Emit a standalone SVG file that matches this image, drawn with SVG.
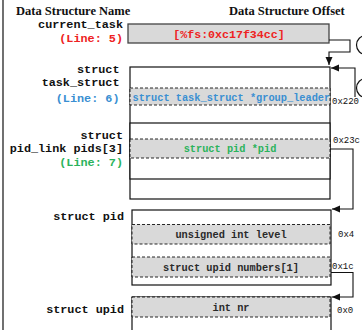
<svg xmlns="http://www.w3.org/2000/svg" width="362" height="330" viewBox="0 0 362 330">
  <style>
    .hdr { font-family: "Liberation Serif", "Times New Roman", serif; font-weight: bold; font-size: 12.5px; fill: #111; }
    .mono { font-family: "Liberation Mono", "Courier New", monospace; font-weight: bold; }
    .lbl { font-size: 11.8px; text-anchor: end; fill: #111; }
    .fld { font-size: 10.3px; fill: #111; }
    .plain { fill: #2a2a2a; }
    .mid { text-anchor: middle; }
    .off { font-family: "Liberation Mono", "Courier New", monospace; font-size: 9px; fill: #111; }
    .red { fill: #ee2222; }
    .blue { fill: #3a8fd2; }
    .green { fill: #2bb35c; }
    .box { fill: #fff; stroke: #111; stroke-width: 1.2; }
    .cur { fill: #d9d9d9; stroke: #444; stroke-width: 1.3; }
    .field { fill: #d9d9d9; stroke: #111; stroke-width: 0.9; stroke-dasharray: 3 2; }
    .wire { fill: none; stroke: #111; stroke-width: 1.1; }
    .ring { fill: #fff; stroke: #111; stroke-width: 1.2; }
  </style>
  <defs>
    <marker id="arrow" markerUnits="userSpaceOnUse" markerWidth="9" markerHeight="8" refX="8" refY="3.5" orient="auto">
      <path d="M0,0 L8,3.5 L0,7 z" fill="#111"/>
    </marker>
  </defs>

  <rect width="362" height="330" fill="#fff"/>
  <line x1="3" y1="0" x2="3" y2="330" stroke="#111" stroke-width="1.2"/>

  <!-- column headers -->
  <text class="hdr" x="16" y="15">Data Structure Name</text>
  <text class="hdr" x="229" y="15">Data Structure Offset</text>

  <!-- current_task pointer -->
  <g id="current_task">
    <text class="mono lbl" x="123" y="27.5">current_task</text>
    <text class="mono lbl red" x="123" y="42">(Line: 5)</text>
    <rect class="cur" x="128" y="24" width="201" height="19"/>
    <text class="mono fld mid red" x="229" y="38" style="font-size:11.6px">[%fs:0xc17f34cc]</text>
  </g>

  <!-- task_struct -->
  <g id="task_struct">
    <text class="mono lbl" x="119.5" y="72.5">struct</text>
    <text class="mono lbl" x="119.5" y="85.5">task_struct</text>
    <text class="mono lbl blue" x="119.5" y="102">(Line: 6)</text>
    <rect class="box" x="130" y="67" width="200" height="132"/>
    <rect class="field" x="130" y="88" width="200" height="17"/>
    <text class="mono fld blue" x="132.5" y="100.5">struct task_struct *group_leader</text>
    <text class="off" x="332" y="103.5">0x220</text>
  </g>

  <!-- pid_link pids[3] -->
  <g id="pid_link">
    <text class="mono lbl" x="123" y="138.5">struct</text>
    <text class="mono lbl" x="123" y="152">pid_link pids[3]</text>
    <text class="mono lbl green" x="123" y="166">(Line: 7)</text>
    <rect class="box" x="130" y="123" width="200" height="56"/>
    <rect class="field" x="130" y="139" width="200" height="19"/>
    <text class="mono fld mid green" x="230" y="152">struct pid *pid</text>
    <text class="off" x="333" y="143">0x23c</text>
  </g>

  <!-- struct pid -->
  <g id="struct_pid">
    <text class="mono lbl" x="124" y="220">struct pid</text>
    <rect class="box" x="132" y="210" width="199" height="75"/>
    <rect class="field" x="132" y="224.5" width="198" height="19.5"/>
    <text class="mono fld mid plain" x="231" y="238">unsigned int level</text>
    <rect class="field" x="132" y="257" width="198" height="20"/>
    <text class="mono fld mid plain" x="231" y="271">struct upid numbers[1]</text>
    <text class="off" x="338" y="237">0x4</text>
    <text class="off" x="332" y="269">0x1c</text>
  </g>

  <!-- struct upid -->
  <g id="struct_upid">
    <text class="mono lbl" x="124" y="313">struct upid</text>
    <rect class="box" x="132" y="297" width="199" height="45"/>
    <rect class="field" x="132" y="297" width="198" height="20"/>
    <text class="mono fld mid plain" x="231" y="310.5">int nr</text>
    <text class="off" x="337" y="313">0x0</text>
  </g>

  <!-- step markers at the right margin -->
  <g id="steps">
    <circle class="ring" cx="366" cy="45" r="9.5"/>
    <circle class="ring" cx="366" cy="88" r="9.5"/>
  </g>

  <!-- connectors -->
  <g id="connectors">
    <path class="wire" d="M329,40 H350 V52 H329 V65" marker-end="url(#arrow)"/>
    <path class="wire" d="M355,97 V68 H331" marker-end="url(#arrow)"/>
    <path class="wire" d="M330,149 H353 V209 H332" marker-end="url(#arrow)"/>
    <path class="wire" d="M331,272.5 H353 V297 H332" marker-end="url(#arrow)"/>
  </g>
</svg>
